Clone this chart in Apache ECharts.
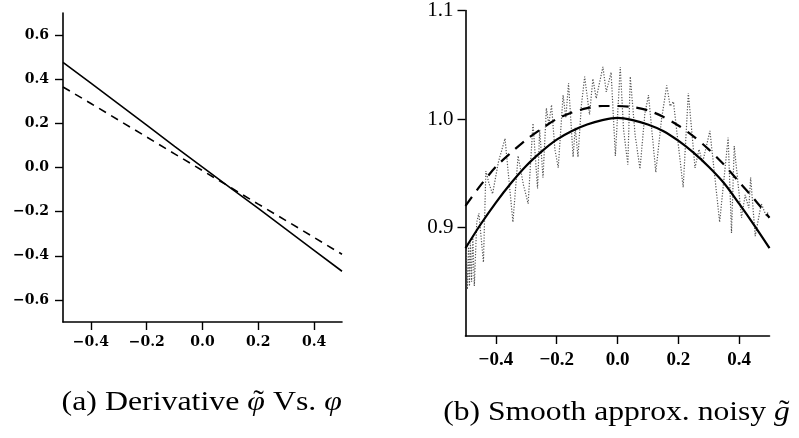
<!DOCTYPE html>
<html>
<head>
<meta charset="utf-8">
<script src="https://cdn.jsdelivr.net/npm/echarts@6/dist/echarts.min.js"></script>
<style>
html,body{margin:0;padding:0;background:#fff;}
#chart{width:799px;height:438px;}
</style>
</head>
<body>
<div id="chart"></div>
<script>
// ---- Panel (a) data ----
const leftX = [-0.5,-0.4,-0.3,-0.2,-0.1,0.0,0.1,0.2,0.3,0.4,0.5];
const leftSolid = [0.476,0.382,0.287,0.192,0.096,0.002,-0.092,-0.185,-0.280,-0.375,-0.470];
const leftDashed = [0.365,0.290,0.214,0.138,0.062,-0.014,-0.090,-0.166,-0.241,-0.317,-0.393];
const leftXTicks = [-0.4,-0.2,0.0,0.2,0.4];
const leftYTicks = [-0.6,-0.4,-0.2,0.0,0.2,0.4,0.6];

// ---- Panel (b) data ----
const rightX = [-0.5,-0.45,-0.4,-0.35,-0.3,-0.25,-0.2,-0.15,-0.1,-0.05,0.0,0.05,0.1,0.15,0.2,0.25,0.3,0.35,0.4,0.45,0.5];
const rightSolid = [0.881,0.903,0.923,0.941,0.957,0.970,0.981,0.989,0.995,0.999,1.001,0.999,0.995,0.989,0.980,0.969,0.956,0.941,0.922,0.902,0.881];
const rightDashed = [0.920,0.939,0.956,0.969,0.981,0.991,1.000,1.006,1.010,1.012,1.012,1.011,1.008,1.002,0.994,0.984,0.972,0.958,0.942,0.926,0.909];
const noisyX = [-0.497,-0.494,-0.490,-0.487,-0.484,-0.480,-0.476,-0.471,-0.463,-0.456,-0.441,-0.433,-0.422,-0.411,-0.392,-0.370,-0.344,-0.327,-0.310,-0.294,-0.278,-0.263,-0.256,-0.245,-0.234,-0.226,-0.217,-0.206,-0.195,-0.179,-0.170,-0.161,-0.146,-0.139,-0.130,-0.119,-0.108,-0.092,-0.081,-0.070,-0.048,-0.037,-0.021,-0.007,0.009,0.020,0.034,0.042,0.058,0.074,0.090,0.102,0.126,0.145,0.162,0.173,0.184,0.216,0.233,0.255,0.268,0.280,0.304,0.336,0.364,0.375,0.384,0.408,0.420,0.432,0.438,0.453,0.473,0.490,0.496];
const noisyY = [0.878,0.843,0.882,0.846,0.886,0.850,0.893,0.846,0.905,0.913,0.868,0.952,0.940,0.931,0.960,0.982,0.905,0.966,0.940,0.922,0.996,0.936,0.990,0.946,1.010,0.995,1.013,0.972,0.955,1.022,1.001,1.033,0.965,0.992,0.965,1.012,1.039,1.004,1.037,1.019,1.048,1.025,1.043,0.966,1.048,0.990,0.958,1.039,0.985,0.954,1.005,1.022,0.951,1.000,1.031,1.012,1.016,0.937,1.024,0.955,0.972,0.960,0.989,0.905,0.983,0.895,0.975,0.909,0.930,0.918,0.946,0.892,0.922,0.910,0.915];
const rightXTicks = [-0.4,-0.2,0.0,0.2,0.4];
const rightYTicks = [0.9,1.0,1.1];

// ---- Captions ----
const captionA = [{t:'(a) Derivative '},{t:'\u03C6', italic:true, tilde:true},{t:' Vs. '},{t:'\u03C6', italic:true}];
const captionB = [{t:'(b) Smooth approx. noisy '},{t:'g', italic:true, tilde:true}];

function zip(a,b){ return a.map((v,i)=>[v,b[i]]); }
function fmt(v){ return (v < -1e-9 ? '\u2212' : '') + Math.abs(v).toFixed(1); }

const CAP_SIZE = 27;
const measureCtx = document.createElement('canvas').getContext('2d');
function fontStr(italic){ return (italic ? 'italic ' : '') + CAP_SIZE + 'px "Liberation Serif"'; }
function caption(parts, cx, cy, sx){
  let widths = parts.map(p => { measureCtx.font = fontStr(p.italic); return measureCtx.measureText(p.t).width; });
  const W = widths.reduce((a,b)=>a+b,0);
  let x = -W/2;
  const children = [];
  parts.forEach((p,i) => {
    children.push({type:'text', x:x, y:0, silent:true,
      style:{text:p.t, font:fontStr(p.italic), fill:'#000', align:'left', verticalAlign:'middle'}});
    if (p.tilde) {
      children.push({type:'text', x:x + widths[i]/2 + 2, y:-1, silent:true,
        style:{text:'\u02DC', font:CAP_SIZE + 'px "Liberation Serif"', fill:'#000', align:'center', verticalAlign:'middle'}});
    }
    x += widths[i];
  });
  return {type:'group', x:cx, y:cy, scaleX:sx, silent:true, children:children};
}

const axisLine = {show:true, onZero:false, lineStyle:{color:'#000', width:1.6}};
const tick = (vals) => ({show:true, inside:false, length:8, customValues:vals, lineStyle:{color:'#000', width:1.4}});

const leftFont = {fontFamily:'DejaVu Serif', fontWeight:'bold', fontSize:14, color:'#000'};
const rightXFont = {fontFamily:'Liberation Serif', fontWeight:'bold', fontSize:19, color:'#000'};
const rightYFont = {fontFamily:'Liberation Serif', fontWeight:'normal', fontSize:21, color:'#000'};

const chart = echarts.init(document.getElementById('chart'), null, {renderer:'canvas'});
chart.setOption({
  animation:false,
  backgroundColor:'#fff',
  grid:[
    {left:63, top:13, width:279, height:309},
    {left:465.5, top:7, width:304, height:329}
  ],
  xAxis:[
    {type:'value', gridIndex:0, min:-0.5, max:0.5, axisLine:axisLine, axisTick:tick(leftXTicks),
     axisLabel:Object.assign({customValues:leftXTicks, margin:13, formatter:fmt}, leftFont), splitLine:{show:false}},
    {type:'value', gridIndex:1, min:-0.5, max:0.5, axisLine:axisLine, axisTick:tick(rightXTicks),
     axisLabel:Object.assign({customValues:rightXTicks, margin:15, formatter:fmt}, rightXFont), splitLine:{show:false}}
  ],
  yAxis:[
    {type:'value', gridIndex:0, min:-0.7, max:0.7, axisLine:axisLine, axisTick:tick(leftYTicks),
     axisLabel:Object.assign({customValues:leftYTicks, margin:14, formatter:fmt}, leftFont), splitLine:{show:false}},
    {type:'value', gridIndex:1, min:0.8, max:1.1, axisLine:axisLine, axisTick:tick(rightYTicks),
     axisLabel:Object.assign({customValues:rightYTicks, margin:12, formatter:fmt}, rightYFont), splitLine:{show:false}}
  ],
  series:[
    {type:'line', xAxisIndex:0, yAxisIndex:0, data:zip(leftX,leftSolid), showSymbol:false, silent:true,
     lineStyle:{color:'#000', width:1.6, type:'solid'}},
    {type:'line', xAxisIndex:0, yAxisIndex:0, data:zip(leftX,leftDashed), showSymbol:false, silent:true,
     lineStyle:{color:'#000', width:1.6, type:[8,6]}},
    {type:'line', xAxisIndex:1, yAxisIndex:1, data:zip(noisyX,noisyY), showSymbol:false, silent:true,
     lineStyle:{color:'#555', width:1.2, type:[1.2,1.6]}},
    {type:'line', xAxisIndex:1, yAxisIndex:1, data:zip(rightX,rightSolid), showSymbol:false, silent:true, smooth:0.3,
     lineStyle:{color:'#000', width:2.2, type:'solid'}},
    {type:'line', xAxisIndex:1, yAxisIndex:1, data:zip(rightX,rightDashed), showSymbol:false, silent:true, smooth:0.3,
     lineStyle:{color:'#000', width:2.2, type:[11,8]}}
  ],
  graphic:[
    caption(captionA, 201.7, 403, 1.18),
    caption(captionB, 616.5, 413, 1.17)
  ]
});
</script>
</body>
</html>
